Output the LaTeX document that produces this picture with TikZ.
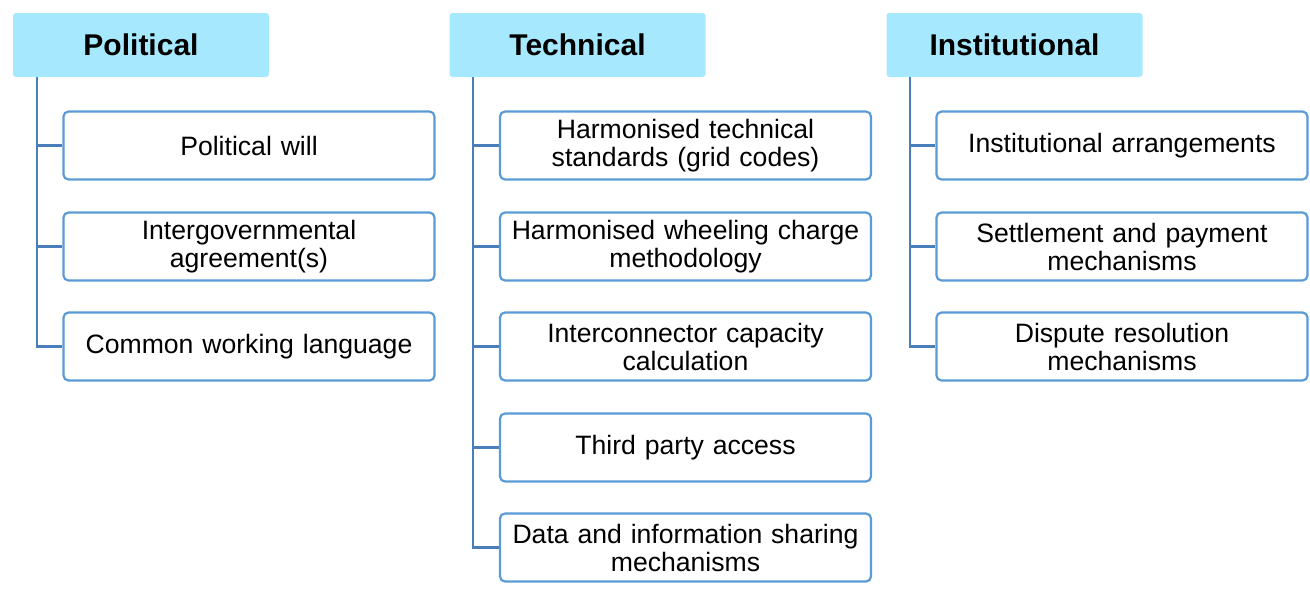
\documentclass[tikz,border=0pt]{standalone}
\usepackage{fontspec}
\setmainfont{Liberation Sans}
\definecolor{hdrfill}{HTML}{A6E9FF}
\definecolor{boxline}{HTML}{5B9BD5}
\definecolor{conn}{HTML}{4A7EBB}
\tikzset{
  hdr/.style={fill=hdrfill, draw=none, rounded corners=3pt, minimum width=256pt, minimum height=64pt, inner sep=0pt, font=\fontsize{30}{34}\selectfont\bfseries, anchor=center},
  item/.style={draw=boxline, line width=2.2pt, fill=white, rounded corners=5pt, minimum width=371pt, minimum height=68pt, inner sep=0pt, text width=366pt, align=center, font=\fontsize{26.6}{28}\selectfont, anchor=center},
  link/.style={draw=conn, line width=2.5pt}
}
\begin{document}
\begin{tikzpicture}[x=1pt,y=-1pt]
\useasboundingbox (0,0) rectangle (1310,595);
% headers
\node[hdr] (hp) at (141,45) {Political};
\node[hdr] (ht) at (577.5,45) {Technical};
\node[hdr] (hi) at (1014.5,45) {Institutional};
% political
\node[item] (p1) at (249,145.5) {Political will};
\node[item] (p2) at (249,246.5) {Intergovernmental\\agreement(s)};
\node[item] (p3) at (249,346.5) {Common working language};
% technical
\node[item] (t1) at (685.5,145.5) {Harmonised technical\\standards (grid codes)};
\node[item] (t2) at (685.5,246.5) {Harmonised wheeling charge\\methodology};
\node[item] (t3) at (685.5,346.5) {Interconnector capacity\\calculation};
\node[item] (t4) at (685.5,447.5) {Third party access};
\node[item] (t5) at (685.5,547.5) {Data and information sharing\\mechanisms};
% institutional
\node[item] (i1) at (1122,145.5) {Institutional arrangements};
\node[item] (i2) at (1122,246.5) {Settlement and payment\\mechanisms};
\node[item] (i3) at (1122,346.5) {Dispute resolution\\mechanisms};
% connectors
\coordinate (cp) at (37,77);
\coordinate (ct) at (473,77);
\coordinate (ci) at (910,77);
\draw[link] (cp) |- (p3.west);
\draw[link] (cp |- p1.west) -- (p1.west);
\draw[link] (cp |- p2.west) -- (p2.west);
\draw[link] (ct) |- (t5.west);
\draw[link] (ct |- t1.west) -- (t1.west);
\draw[link] (ct |- t2.west) -- (t2.west);
\draw[link] (ct |- t3.west) -- (t3.west);
\draw[link] (ct |- t4.west) -- (t4.west);
\draw[link] (ci) |- (i3.west);
\draw[link] (ci |- i1.west) -- (i1.west);
\draw[link] (ci |- i2.west) -- (i2.west);
\end{tikzpicture}
\end{document}
